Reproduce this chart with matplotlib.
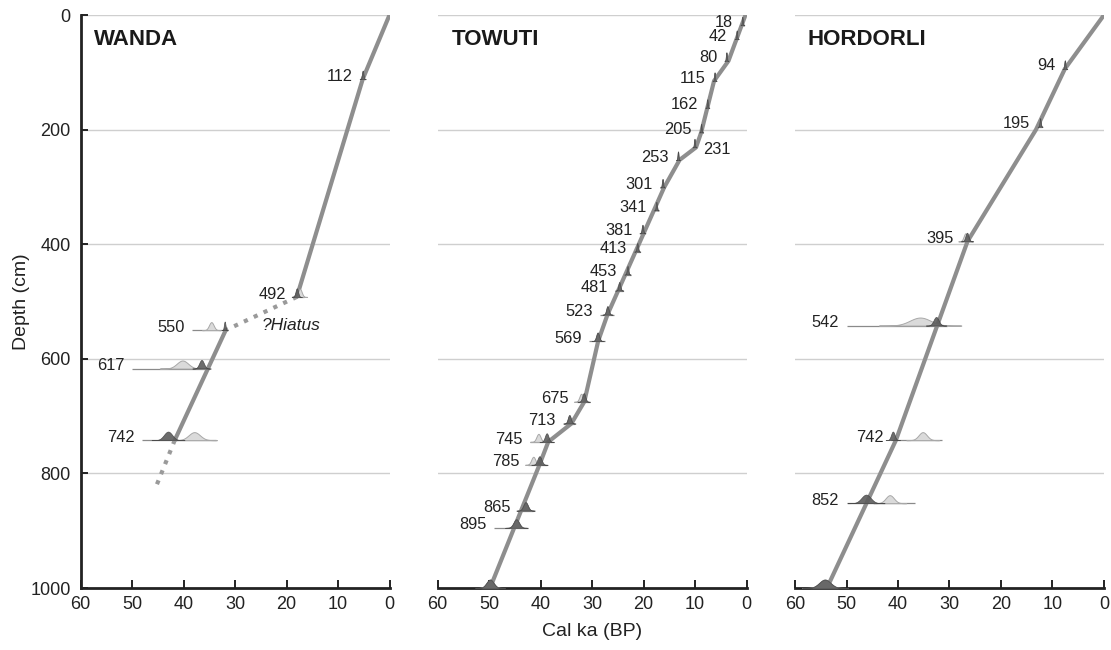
import numpy as np
import matplotlib
matplotlib.use("Agg")
import matplotlib.pyplot as plt

plt.rcParams['font.family'] = ['Liberation Sans', 'DejaVu Sans']

# ---------------- data ----------------
# WANDA age model
wanda_solid1_depth = [0, 112, 492]
wanda_solid1_age = [0.0, 5.2, 18.0]
wanda_hiatus_depth = [492, 550]
wanda_hiatus_age = [18.0, 31.8]
wanda_solid2_depth = [550, 742]
wanda_solid2_age = [31.8, 41.7]
wanda_extrap_depth = [742, 820]
wanda_extrap_age = [41.7, 45.2]

wanda_labels = ["112", "492", "550", "617", "742"]
wanda_depth = [112, 492, 550, 617, 742]
wanda_mod_mean = [5.2, 18.0, 32.0, 36.5, 43.0]
wanda_mod_sd = [0.15, 0.25, 0.15, 0.45, 0.8]
wanda_unm_mean = [5.2, 17.4, 34.6, 40.2, 37.9]
wanda_unm_sd = [0.12, 0.35, 0.45, 1.1, 1.1]
wanda_base_lo = [5.6, 18.6, 38.3, 50.0, 48.0]
wanda_base_hi = [4.9, 16.6, 31.6, 35.0, 33.6]
wanda_label_side = ["L", "L", "L", "L", "L"]

# TOWUTI age model
towuti_line_depth = [0, 80, 115, 205, 231, 253, 301, 523, 569, 675, 713, 745, 785, 1000]
towuti_line_age = [0.2, 3.5, 6.3, 8.8, 9.8, 13.0, 16.0, 27.0, 28.8, 31.5, 34.0, 38.5, 40.2, 49.8]

towuti_labels = ["18", "42", "80", "115", "162", "205", "231", "253", "301", "341",
                 "381", "413", "453", "481", "523", "569", "675", "713", "745", "785",
                 "865", "895", ""]
towuti_depth = [18, 42, 80, 115, 162, 205, 231, 253, 301, 341,
                381, 413, 453, 481, 523, 569, 675, 713, 745, 785,
                865, 895, 1000]
towuti_mod_mean = [0.8, 1.9, 3.9, 6.2, 7.6, 8.8, 10.1, 13.3, 16.3, 17.5,
                   20.2, 21.2, 23.1, 24.7, 27.0, 28.9, 31.6, 34.4, 38.8, 40.2,
                   42.9, 44.7, 49.8]
towuti_mod_sd = [0.1, 0.1, 0.1, 0.1, 0.1, 0.1, 0.1, 0.1, 0.12, 0.12,
                 0.15, 0.15, 0.15, 0.2, 0.25, 0.3, 0.3, 0.3, 0.35, 0.4,
                 0.45, 0.55, 0.7]
towuti_unm_mean = [0.8, 1.9, 3.9, 6.2, 7.6, 8.8, 10.1, 13.3, 16.3, 17.5,
                   20.2, 21.2, 23.1, 24.7, 27.0, 28.9, 32.1, 34.4, 40.4, 41.4,
                   42.9, 44.7, 49.8]
towuti_unm_sd = [0.08, 0.08, 0.08, 0.08, 0.08, 0.08, 0.08, 0.08, 0.1, 0.1,
                 0.12, 0.12, 0.12, 0.18, 0.22, 0.25, 0.35, 0.25, 0.4, 0.4,
                 0.4, 0.5, 0.7]
towuti_base_lo = [1.1, 2.2, 4.2, 6.5, 7.9, 9.1, 10.4, 13.6, 16.7, 17.9,
                  20.7, 21.7, 23.7, 25.5, 28.4, 30.5, 33.0, 35.5, 42.0, 42.5,
                  44.3, 49.0, 51.5]
towuti_base_hi = [0.5, 1.6, 3.6, 5.9, 7.3, 8.5, 9.8, 13.0, 15.9, 17.1,
                  19.7, 20.7, 22.5, 23.9, 25.8, 27.4, 30.4, 33.4, 37.4, 38.8,
                  41.5, 42.5, 48.0]
towuti_label_side = ["L"] * 6 + ["R"] + ["L"] * 16

# HORDORLI age model
hordorli_line_depth = [0, 94, 200, 395, 742, 1000]
hordorli_line_age = [0.0, 7.6, 13.2, 26.5, 40.4, 53.8]

hordorli_labels = ["94", "195", "395", "542", "742", "852", ""]
hordorli_depth = [94, 195, 395, 542, 742, 852, 1000]
hordorli_mod_mean = [7.6, 12.4, 26.6, 32.6, 41.0, 46.2, 54.2]
hordorli_mod_sd = [0.12, 0.12, 0.3, 0.5, 0.35, 0.9, 1.1]
hordorli_unm_mean = [7.6, 12.4, 26.9, 35.7, 35.2, 41.6, 54.2]
hordorli_unm_sd = [0.1, 0.1, 0.35, 2.0, 0.8, 0.8, 1.1]
hordorli_base_lo = [8.0, 12.8, 27.6, 50.0, 41.3, 50.0, 57.0]
hordorli_base_hi = [7.2, 12.0, 25.8, 30.5, 31.5, 36.7, 51.5]
hordorli_label_side = ["L"] * 7

depth_ticks = [0, 200, 400, 600, 800, 1000]
age_ticks = [60, 50, 40, 30, 20, 10, 0]
grid_depths = [0, 200, 400, 600, 800]

# ---------------- style ----------------
LINE_C = "#8e8e8e"
DARK_C = "#5c5c5c"
LIGHT_C = "#dadada"
LIGHT_EDGE = "#a8a8a8"
BASE_C = "#8a8a8a"
GRID_C = "#cfcfcf"
H_DARK = 15.0
H_LIGHT = 14.0

fig = plt.figure(figsize=(11.11, 6.5), dpi=100)
W, H = 1111.0, 650.0
top_px, bot_px = 15.0, 588.0
panel_left_px = [80.5, 437.5, 795.0]
panel_w_px = 309.0
axes = []
for lp in panel_left_px:
    ax = fig.add_axes([lp / W, 1 - bot_px / H, panel_w_px / W, (bot_px - top_px) / H])
    axes.append(ax)


def draw_dates(ax, labels, depth, mmean, msd, umean, usd, blo, bhi, side):
    for i in range(len(depth)):
        d = depth[i]
        ax.plot([blo[i], bhi[i]], [d, d], color=BASE_C, lw=0.9, zorder=3,
                clip_on=False, solid_capstyle='butt')
        # light (unmodelled) distribution
        xs = np.linspace(umean[i] - 4 * usd[i], umean[i] + 4 * usd[i], 200)
        ys = H_LIGHT * np.exp(-0.5 * ((xs - umean[i]) / usd[i]) ** 2)
        ax.fill_between(xs, d, d - ys, color=LIGHT_C, edgecolor=LIGHT_EDGE,
                        lw=0.7, zorder=3, clip_on=False)
        # dark (modelled) distribution
        xs = np.linspace(mmean[i] - 4 * msd[i], mmean[i] + 4 * msd[i], 200)
        ys = H_DARK * np.exp(-0.5 * ((xs - mmean[i]) / msd[i]) ** 2)
        ax.fill_between(xs, d, d - ys, color=DARK_C, edgecolor="#444444",
                        lw=0.5, alpha=0.9, zorder=4, clip_on=False)
        if labels[i]:
            if side[i] == "L":
                ax.text(blo[i] + 1.5, d - 5, labels[i], ha='right', va='center',
                        fontsize=11.8, color="#222222", zorder=5)
            else:
                ax.text(bhi[i] - 1.3, d + 4, labels[i], ha='left', va='center',
                        fontsize=11.8, color="#222222", zorder=5)


for k, ax in enumerate(axes):
    ax.set_xlim(60, 0)
    ax.set_ylim(1000, 0)
    for g in grid_depths:
        ax.axhline(g, color=GRID_C, lw=1.0, zorder=0)
    for s in ["top", "right"]:
        ax.spines[s].set_visible(False)
    ax.spines["bottom"].set_linewidth(2.0)
    ax.spines["bottom"].set_color("#222222")
    ax.set_xticks(age_ticks)
    ax.set_xticklabels([str(a) for a in age_ticks])
    ax.tick_params(axis='x', direction='in', length=6, width=1.4, labelsize=13,
                   pad=6, colors="#222222")
    if k == 0:
        ax.spines["left"].set_linewidth(2.0)
        ax.spines["left"].set_color("#222222")
        ax.set_yticks(depth_ticks)
        ax.set_yticklabels([str(d) for d in depth_ticks])
        ax.tick_params(axis='y', direction='in', length=5, width=1.4,
                       labelsize=13, pad=7, colors="#222222")
    else:
        ax.spines["left"].set_visible(False)
        ax.set_yticks([])

# WANDA
ax = axes[0]
ax.plot(wanda_solid1_age, wanda_solid1_depth, color=LINE_C, lw=3.0, zorder=2,
        solid_capstyle='round')
ax.plot(wanda_hiatus_age, wanda_hiatus_depth, color="#9a9a9a", lw=3.0, zorder=2,
        linestyle=(0, (1.0, 1.6)))
ax.plot(wanda_solid2_age, wanda_solid2_depth, color=LINE_C, lw=3.0, zorder=2,
        solid_capstyle='round')
ax.plot(wanda_extrap_age, wanda_extrap_depth, color="#9a9a9a", lw=3.0, zorder=2,
        linestyle=(0, (1.0, 1.6)))
draw_dates(ax, wanda_labels, wanda_depth, wanda_mod_mean, wanda_mod_sd,
           wanda_unm_mean, wanda_unm_sd, wanda_base_lo, wanda_base_hi, wanda_label_side)
ax.text(24.8, 542, "?Hiatus", style='italic', fontsize=12.5, ha='left', va='center',
        color="#222222")
ax.text(0.045, 0.958, "WANDA", transform=ax.transAxes, fontsize=16,
        fontweight='bold', ha='left', va='center', color="#1a1a1a")

# TOWUTI
ax = axes[1]
ax.plot(towuti_line_age, towuti_line_depth, color=LINE_C, lw=3.0, zorder=2,
        solid_joinstyle='round', solid_capstyle='round')
draw_dates(ax, towuti_labels, towuti_depth, towuti_mod_mean, towuti_mod_sd,
           towuti_unm_mean, towuti_unm_sd, towuti_base_lo, towuti_base_hi,
           towuti_label_side)
ax.text(0.047, 0.958, "TOWUTI", transform=ax.transAxes, fontsize=16,
        fontweight='bold', ha='left', va='center', color="#1a1a1a")

# HORDORLI
ax = axes[2]
ax.plot(hordorli_line_age, hordorli_line_depth, color=LINE_C, lw=3.0, zorder=2,
        solid_joinstyle='round', solid_capstyle='round')
draw_dates(ax, hordorli_labels, hordorli_depth, hordorli_mod_mean, hordorli_mod_sd,
           hordorli_unm_mean, hordorli_unm_sd, hordorli_base_lo, hordorli_base_hi,
           hordorli_label_side)
ax.text(0.039, 0.958, "HORDORLI", transform=ax.transAxes, fontsize=16,
        fontweight='bold', ha='left', va='center', color="#1a1a1a")

fig.text(22 / W, 1 - 302 / H, "Depth (cm)", rotation=90, ha='center', va='center',
         fontsize=14, color="#222222")
fig.text(592 / W, 1 - 632 / H, "Cal ka (BP)", ha='center', va='center',
         fontsize=14, color="#222222")

fig.savefig("out.png", dpi=100)
